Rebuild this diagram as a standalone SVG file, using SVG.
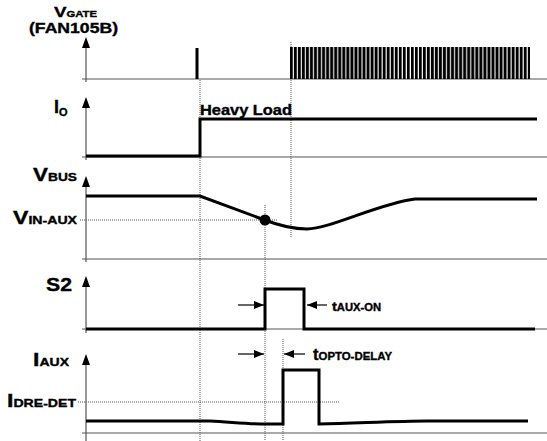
<svg xmlns="http://www.w3.org/2000/svg" width="547" height="441" viewBox="0 0 547 441">
<style>
.lbl{font-family:"Liberation Sans",Arial,sans-serif;font-weight:bold;fill:#000;stroke:#000;stroke-width:0.35}
.big{font-size:18px}
.sub{font-size:11px}
.axis{stroke:#555;stroke-width:1.2;fill:none}
.base{stroke:#555;stroke-width:1.2;fill:none}
.sig{stroke:#000;stroke-width:3;fill:none}
.dot{stroke:#555;stroke-width:1;stroke-dasharray:1 1;fill:none}
.dim{stroke:#000;stroke-width:1.2;fill:none}
</style>
<defs>
<marker id="ah" viewBox="0 0 10 8" refX="10" refY="4" markerWidth="10" markerHeight="8" markerUnits="userSpaceOnUse" orient="auto">
<path d="M0,0 L10,4 L0,8 Z" fill="#000"/>
</marker>
<pattern id="pulses" patternUnits="userSpaceOnUse" x="290" y="0" width="4.03" height="441">
<rect x="0" y="0" width="2.9" height="441" fill="#000"/>
</pattern>
</defs>

<g id="guides">
<path class="dot" d="M200,80 V441 M291,42 V237 M265,205 V441 M283,339 V441 M80,220 H277 M78,402 H339"/>
</g>

<g id="axes">
<path class="axis" d="M86,82 V40"/>
<path class="base" d="M82,79 H547"/>
<path class="axis" d="M86,160 V100"/>
<path class="base" d="M82,157 H547"/>
<path class="axis" d="M86,262 V179"/>
<path class="base" d="M82,259 H547"/>
<path class="axis" d="M86,333 V279"/>
<path class="base" d="M82,329 H547"/>
<path class="axis" d="M86,441 V357"/>
<path class="base" d="M82,433 H547"/>
<path d="M86,37 L90,48 L82,48 Z M86,97 L90,108 L82,108 Z M86,176 L90,187 L82,187 Z M86,276 L90,287 L82,287 Z M86,354 L90,365 L82,365 Z" fill="#000"/>
</g>

<g id="vgate">
<rect x="195.5" y="48" width="3" height="31" fill="#000"/>
<rect x="290" y="47" width="240" height="32" fill="url(#pulses)"/>
<text class="lbl" x="54" y="17" textLength="43" lengthAdjust="spacingAndGlyphs"><tspan style="font-size:15px">V</tspan><tspan style="font-size:9px">GATE</tspan></text>
<text class="lbl" x="29" y="33" style="font-size:14px" textLength="89" lengthAdjust="spacingAndGlyphs">(FAN105B)</text>
</g>

<g id="io">
<path class="sig" d="M86,156 H200 V119 H537"/>
<text class="lbl" x="54" y="113"><tspan class="big">I</tspan><tspan class="sub" dy="3">O</tspan></text>
<text class="lbl" x="200" y="115" style="font-size:14px" textLength="92" lengthAdjust="spacingAndGlyphs">Heavy Load</text>
</g>

<g id="vbus">
<path class="sig" d="M86,196 H200 L262,219 C280,226 292,229 307,229 C330,229 380,203 415,199 H537"/>
<circle cx="265" cy="220" r="5.5" fill="#000"/>
<text class="lbl" x="33" y="181" textLength="44" lengthAdjust="spacingAndGlyphs"><tspan class="big">V</tspan><tspan class="sub">BUS</tspan></text>
<text class="lbl" x="13" y="224" textLength="64" lengthAdjust="spacingAndGlyphs"><tspan class="big">V</tspan><tspan class="sub">IN-AUX</tspan></text>
</g>

<g id="s2">
<path class="sig" d="M86,329 H265 V289 H304 V329 H535"/>
<text class="lbl big" x="46" y="291" textLength="26" lengthAdjust="spacingAndGlyphs">S2</text>
<path class="dim" d="M238,305 H264" marker-end="url(#ah)"/>
<path class="dim" d="M327,305 H307" marker-end="url(#ah)"/>
<text class="lbl" x="332" y="311" textLength="49" lengthAdjust="spacingAndGlyphs"><tspan style="font-size:13px">t</tspan><tspan class="sub" style="font-size:10px">AUX-ON</tspan></text>
</g>

<g id="iaux">
<path class="sig" d="M86,421 H210 C230,422 250,424 265,424 H283 V370 H319 V424 C360,423 400,421 427,421 H528"/>
<text class="lbl" x="33" y="366" textLength="36" lengthAdjust="spacingAndGlyphs"><tspan class="big">I</tspan><tspan class="sub">AUX</tspan></text>
<text class="lbl" x="7" y="407" textLength="69" lengthAdjust="spacingAndGlyphs"><tspan class="big">I</tspan><tspan class="sub">DRE-DET</tspan></text>
<path class="dim" d="M238,354 H264" marker-end="url(#ah)"/>
<path class="dim" d="M305,354 H284" marker-end="url(#ah)"/>
<text class="lbl" x="313" y="360" textLength="79" lengthAdjust="spacingAndGlyphs"><tspan style="font-size:16px">t</tspan><tspan class="sub">OPTO-DELAY</tspan></text>
</g>
</svg>
